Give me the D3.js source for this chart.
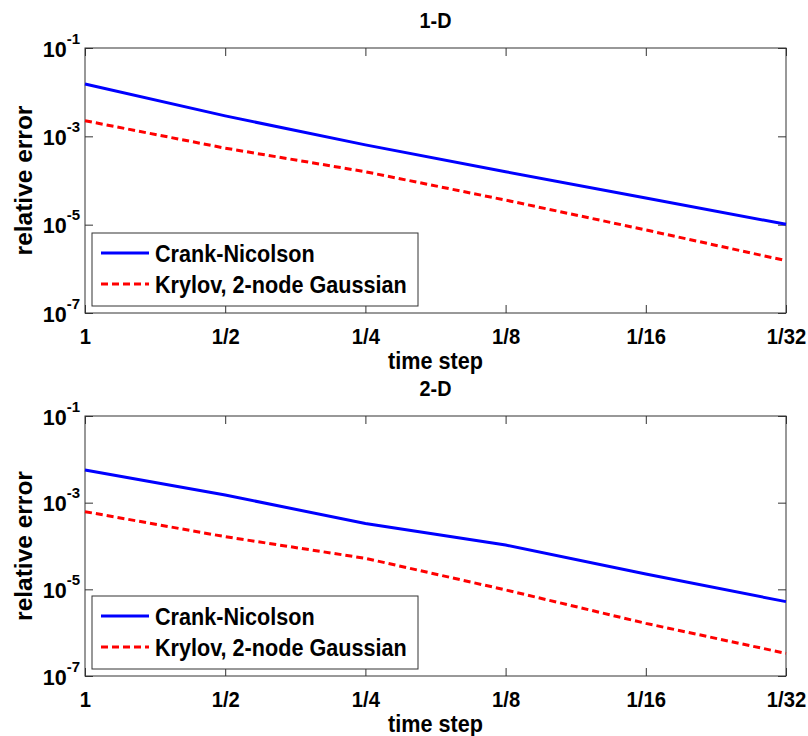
<!DOCTYPE html>
<html>
<head>
<meta charset="utf-8">
<script src="https://d3js.org/d3.v7.min.js"></script>
<style>
  body { margin: 0; background: #fff; }
  text { font-family: "Liberation Sans", Arial, Helvetica, sans-serif; font-weight: bold; fill: #000; }
</style>
</head>
<body>
<script>
// time steps (x) and their labels
var steps = [1, 1/2, 1/4, 1/8, 1/16, 1/32];
var stepLabels = ["1", "1/2", "1/4", "1/8", "1/16", "1/32"];
// y ticks: powers of ten shown on the axis
var yTickExp = [-1, -3, -5, -7];

// 1-D relative errors
var cn1D  = [1.53e-2, 2.9e-3, 6.4e-4, 1.58e-4, 4.0e-5, 1.02e-5];
var kry1D = [2.26e-3, 5.4e-4, 1.58e-4, 3.6e-5, 7.6e-6, 1.53e-6];
// 2-D relative errors
var cn2D  = [5.67e-3, 1.5e-3, 3.3e-4, 1.05e-4, 2.26e-5, 5.2e-6];
var kry2D = [6.2e-4, 1.64e-4, 5.2e-5, 9.7e-6, 1.64e-6, 3.33e-7];

var seriesNames = ["Crank-Nicolson", "Krylov, 2-node Gaussian"];

var W = 808, H = 736;
var left = 85, right = 786;
var squeeze = "scale(0.9,1)"; // MATLAB's Helvetica looks narrower than Liberation Sans

var svg = d3.select("body").append("svg")
  .attr("width", W)
  .attr("height", H);

var x = d3.scaleLog().base(2)
  .domain([1, 1/32])
  .range([left, right]);

function label(g, px, py, size, txt) {
  return g.append("text")
    .attr("transform", "translate(" + px + "," + py + ") " + squeeze)
    .attr("text-anchor", "middle")
    .style("font-size", size)
    .text(txt);
}

function drawPanel(title, cn, kry, top, bottom) {
  var g = svg.append("g");

  var y = d3.scaleLog()
    .domain([1e-7, 1e-1])
    .range([bottom, top]);

  //frame
  g.append("rect")
    .attr("x", left).attr("y", top)
    .attr("width", right - left).attr("height", bottom - top)
    .attr("fill", "none")
    .attr("stroke", "#333")
    .attr("stroke-width", 1);

  //bottom axis (ticks inside)
  var xAxis = g.append("g")
    .attr("transform", "translate(0," + bottom + ")")
    .call(d3.axisBottom(x)
      .tickValues(steps)
      .tickFormat(function(d, i) { return stepLabels[i]; })
      .tickSizeInner(-8).tickSizeOuter(0).tickPadding(15));
  xAxis.select(".domain").remove();
  xAxis.selectAll("line").attr("stroke", "#333");
  xAxis.selectAll("text")
    .attr("transform", "scale(0.92,1)")
    .style("font-size", "22px")
    .style("font-family", "Liberation Sans, Arial, sans-serif").style("font-weight", "bold");

  //top mirrored ticks
  var xTop = g.append("g")
    .attr("transform", "translate(0," + top + ")")
    .call(d3.axisTop(x).tickValues(steps).tickFormat("").tickSizeInner(-8).tickSizeOuter(0));
  xTop.select(".domain").remove();
  xTop.selectAll("line").attr("stroke", "#333");

  //left axis
  var yVals = yTickExp.map(function(e) { return Math.pow(10, e); });
  var yAxis = g.append("g")
    .attr("transform", "translate(" + left + ",0)")
    .call(d3.axisLeft(y).tickValues(yVals).tickFormat("")
      .tickSizeInner(-8).tickSizeOuter(0).tickPadding(5));
  yAxis.select(".domain").remove();
  yAxis.selectAll("line").attr("stroke", "#333");
  yAxis.selectAll(".tick text").each(function(d) {
    var t = d3.select(this)
      .attr("x", -5)
      .attr("dy", null)
      .attr("y", 8)
      .attr("text-anchor", "end")
      .style("font-family", "Liberation Sans, Arial, sans-serif")
      .style("font-weight", "bold");
    t.append("tspan").style("font-size", "21.5px").text("10");
    t.append("tspan").style("font-size", "15px").attr("dy", -13)
      .text(String(Math.round(Math.log10(d))));
  });

  //right mirrored ticks
  var yRight = g.append("g")
    .attr("transform", "translate(" + right + ",0)")
    .call(d3.axisRight(y).tickValues(yVals).tickFormat("").tickSizeInner(-8).tickSizeOuter(0));
  yRight.select(".domain").remove();
  yRight.selectAll("line").attr("stroke", "#333");

  //lines
  var line = d3.line()
    .x(function(d, i) { return x(steps[i]); })
    .y(function(d) { return y(d); });

  g.append("path").datum(cn)
    .attr("d", line)
    .attr("fill", "none")
    .attr("stroke", "#0000ff")
    .attr("stroke-width", 3);

  g.append("path").datum(kry)
    .attr("d", line)
    .attr("fill", "none")
    .attr("stroke", "#ff0000")
    .attr("stroke-width", 3)
    .attr("stroke-dasharray", "7,4");

  //title + axis labels
  label(g, (left + right) / 2, top - 20, "22px", title);
  label(g, (left + right) / 2, bottom + 56, "24px", "time step");
  g.append("text")
    .attr("transform", "translate(32," + ((top + bottom) / 2) + ") rotate(-90)")
    .attr("text-anchor", "middle")
    .style("font-size", "24.5px")
    .text("relative error");

  //legend
  var lg = g.append("g");
  lg.append("rect")
    .attr("x", left + 7).attr("y", bottom - 80)
    .attr("width", 326).attr("height", 73)
    .attr("fill", "#fff")
    .attr("stroke", "#333");

  var entries = [
    {name: seriesNames[0], color: "#0000ff", dash: null, dy: -60},
    {name: seriesNames[1], color: "#ff0000", dash: "7,4", dy: -29}
  ];
  entries.forEach(function(e) {
    lg.append("line")
      .attr("x1", left + 16).attr("x2", left + 64)
      .attr("y1", bottom + e.dy).attr("y2", bottom + e.dy)
      .attr("stroke", e.color)
      .attr("stroke-width", 3)
      .attr("stroke-dasharray", e.dash);
    lg.append("text")
      .attr("transform", "translate(" + (left + 70) + "," + (bottom + e.dy) + ") " + squeeze)
      .attr("dy", "0.36em")
      .style("font-size", "24px")
      .text(e.name);
  });
}

drawPanel("1-D", cn1D, kry1D, 48, 313);
drawPanel("2-D", cn2D, kry2D, 416, 676);
</script>
</body>
</html>
